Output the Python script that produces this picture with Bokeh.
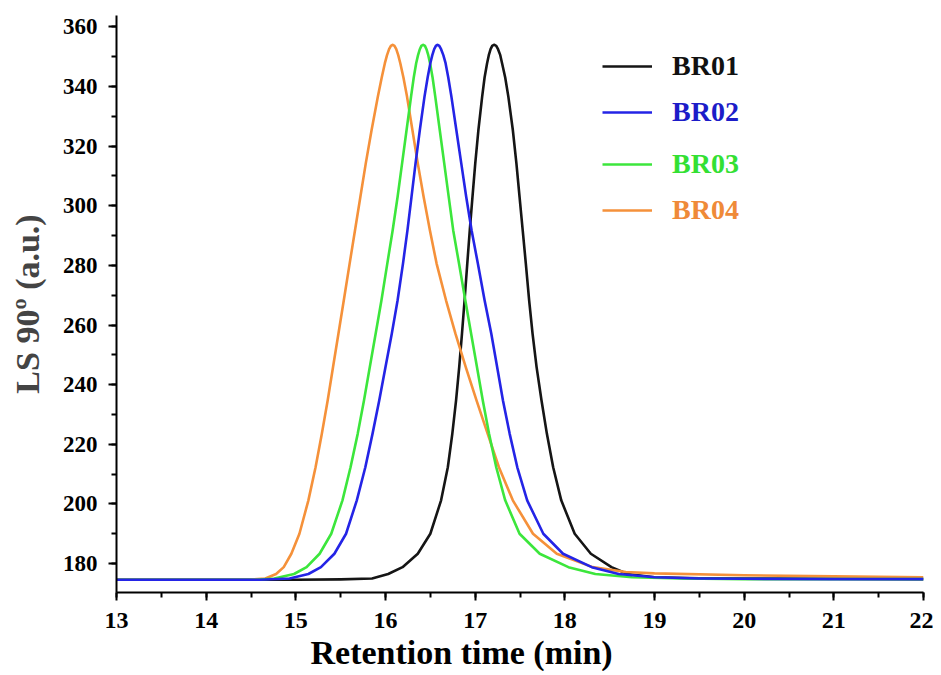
from bokeh.plotting import figure
from bokeh.models import Range1d, SingleIntervalTicker, Legend, LegendItem, Title
from bokeh.embed import file_html
from bokeh.resources import INLINE

# ---- data ----
br01_t = [13.0, 14.0, 15.0, 15.5, 15.85, 16.03, 16.19, 16.36, 16.50, 16.62,
          16.695, 16.745, 16.787, 16.822, 16.853, 16.882, 16.912, 16.94, 16.97, 17.001,
          17.036, 17.078, 17.105, 17.133, 17.152, 17.172, 17.19, 17.21, 17.235, 17.255,
          17.28, 17.30, 17.335, 17.37, 17.42, 17.46, 17.495, 17.53, 17.565, 17.602,
          17.64, 17.685, 17.74, 17.80, 17.87, 17.96, 18.11, 18.29, 18.52, 18.70,
          19.0, 19.5, 20.0, 21.0, 22.0]
br01_v = [174.6, 174.6, 174.6, 174.7, 175.0, 176.5, 178.8, 183.3, 190, 201.2,
          212.3, 223.5, 234.7, 245.9, 257.1, 268.3, 280.6, 291.8, 303, 314.2,
          325.4, 336.6, 343, 347.8, 350.5, 352.5, 353.6, 354, 353.6, 352.5,
          350.5, 347.8, 343, 336.6, 325.4, 314.2, 303, 291.8, 280.6, 268.3,
          257.1, 245.9, 234.7, 223.5, 212.3, 201.2, 190, 183.3, 178.8, 176.5,
          175.4, 175.1, 175.0, 174.9, 174.8]

br02_t = [13.0, 14.0, 14.6, 14.93, 15.14, 15.28, 15.43, 15.56, 15.68, 15.775,
          15.855, 15.93, 16.0, 16.07, 16.135, 16.195, 16.245, 16.29, 16.335, 16.383,
          16.435, 16.47, 16.50, 16.522, 16.543, 16.562, 16.58, 16.60, 16.62, 16.645,
          16.67, 16.70, 16.735, 16.79, 16.845, 16.90, 16.96, 17.03, 17.105, 17.18,
          17.245, 17.31, 17.385, 17.47, 17.58, 17.76, 17.98, 18.30, 18.60, 19.0,
          19.5, 20.0, 21.0, 22.0]
br02_v = [174.6, 174.6, 174.6, 175.0, 176.5, 178.8, 183.3, 190, 201.2, 212.3,
          223.5, 234.7, 245.9, 257.1, 268.3, 280.6, 291.8, 303, 314.2, 325.4,
          336.6, 343, 347.8, 350.5, 352.5, 353.6, 354, 353.6, 352.5, 350.5,
          347.8, 343, 336.6, 325.4, 314.2, 303, 291.8, 280.6, 268.3, 257.1,
          245.9, 234.7, 223.5, 212.3, 201.2, 190, 183.3, 178.8, 176.5, 175.4,
          175.0, 174.9, 174.8, 174.8]

br03_t = [13.0, 14.0, 14.55, 14.76, 14.98, 15.12, 15.265, 15.395, 15.52, 15.61,
          15.69, 15.76, 15.825, 15.89, 15.955, 16.02, 16.08, 16.135, 16.185, 16.235,
          16.285, 16.315, 16.342, 16.363, 16.383, 16.40, 16.42, 16.44, 16.457, 16.477,
          16.497, 16.525, 16.555, 16.605, 16.655, 16.705, 16.755, 16.82, 16.89, 16.955,
          17.02, 17.085, 17.155, 17.235, 17.335, 17.495, 17.72, 18.04, 18.34, 18.75,
          19.3, 20.0, 21.0, 22.0]
br03_v = [174.6, 174.6, 174.6, 175.0, 176.5, 178.8, 183.3, 190, 201.2, 212.3,
          223.5, 234.7, 245.9, 257.1, 268.3, 280.6, 291.8, 303, 314.2, 325.4,
          336.6, 343, 347.8, 350.5, 352.5, 353.6, 354, 353.6, 352.5, 350.5,
          347.8, 343, 336.6, 325.4, 314.2, 303, 291.8, 280.6, 268.3, 257.1,
          245.9, 234.7, 223.5, 212.3, 201.2, 190, 183.3, 178.8, 176.5, 175.4,
          175.0, 174.8, 174.8, 174.8]

br04_t = [13.0, 14.0, 14.5, 14.66, 14.78, 14.865, 14.95, 15.04, 15.14, 15.22,
          15.29, 15.355, 15.415, 15.475, 15.535, 15.60, 15.66, 15.72, 15.78, 15.845,
          15.915, 15.958, 15.993, 16.017, 16.04, 16.06, 16.08, 16.10, 16.12, 16.142,
          16.165, 16.20, 16.24, 16.30, 16.36, 16.425, 16.495, 16.57, 16.675, 16.78,
          16.895, 17.015, 17.14, 17.265, 17.42, 17.645, 17.91, 18.31, 18.68, 19.0,
          20.0, 21.0, 22.0]
br04_v = [174.6, 174.6, 174.6, 175.0, 176.5, 178.8, 183.3, 190, 201.2, 212.3,
          223.5, 234.7, 245.9, 257.1, 268.3, 280.6, 291.8, 303, 314.2, 325.4,
          336.6, 343, 347.8, 350.5, 352.5, 353.6, 354, 353.6, 352.5, 350.5,
          347.8, 343, 336.6, 325.4, 314.2, 303, 291.8, 280.6, 268.3, 257.1,
          245.9, 234.7, 223.5, 212.3, 201.2, 190, 183.3, 178.8, 177.2, 176.7,
          176.1, 175.7, 175.4]

names = ["BR01", "BR02", "BR03", "BR04"]
line_colors = ["#151515", "#2424e6", "#3ce63c", "#f5913a"]
text_colors = ["#111111", "#1c1cc8", "#33e033", "#ef8a38"]

FONT = "Liberation Serif"

p = figure(width=933, height=671, output_backend="svg", toolbar_location=None,
           x_range=Range1d(13, 22), y_range=Range1d(170.3, 363.8),
           min_border_left=116, min_border_right=10, min_border_top=15,
           min_border_bottom=75)
p.outline_line_color = None
p.xgrid.visible = False
p.ygrid.visible = False
p.background_fill_color = "white"
p.border_fill_color = "white"

series = {
    "BR01": (br01_t, br01_v),
    "BR02": (br02_t, br02_v),
    "BR03": (br03_t, br03_v),
    "BR04": (br04_t, br04_v),
}
renderers = {}
for name in ["BR01", "BR04", "BR03", "BR02"]:
    i = names.index(name)
    t, v = series[name]
    renderers[name] = p.line(t, v, line_color=line_colors[i], line_width=2.6,
                             line_join="round")

# axes
p.xaxis.ticker = SingleIntervalTicker(interval=1, num_minor_ticks=2)
p.yaxis.ticker = SingleIntervalTicker(interval=20, num_minor_ticks=2)
for ax in (p.xaxis, p.yaxis):
    ax.axis_line_width = 2
    ax.axis_line_color = "black"
    ax.major_tick_line_width = 2
    ax.minor_tick_line_width = 2
    ax.major_tick_out = 8
    ax.major_tick_in = 0
    ax.minor_tick_out = 5
    ax.minor_tick_in = 0
    ax.major_label_text_font = FONT
    ax.major_label_text_font_style = "bold"
    ax.major_label_text_font_size = "23px"
    ax.major_label_text_color = "black"
p.xaxis.major_label_text_font_size = "24px"
p.yaxis.major_label_standoff = 11
p.xaxis.major_label_standoff = 12
p.yaxis.axis_label = "LS 90º (a.u.)"
p.yaxis.axis_label_text_font = FONT
p.yaxis.axis_label_text_font_style = "bold"
p.yaxis.axis_label_text_font_size = "34px"
p.yaxis.axis_label_standoff = 14

xtitle = Title(text="Retention time (min)", align="left", offset=194,
               text_font=FONT, text_font_style="bold", text_font_size="34px",
               text_color="black", standoff=2)
p.add_layout(xtitle, "below")

# legend: one small legend per entry so each label has its own colour
leg_y = [510, 464, 412, 366]
for i, name in enumerate(names):
    lg = Legend(items=[LegendItem(label=name, renderers=[renderers[name]])],
                location=(486, leg_y[i]), orientation="vertical",
                glyph_width=50, glyph_height=20, label_standoff=20,
                padding=0, margin=0, spacing=0,
                label_text_font=FONT, label_text_font_style="bold",
                label_text_font_size="28px", label_text_color=text_colors[i],
                border_line_color=None, background_fill_alpha=0)
    p.add_layout(lg)

open("out.html", "w").write(file_html(p, INLINE))
